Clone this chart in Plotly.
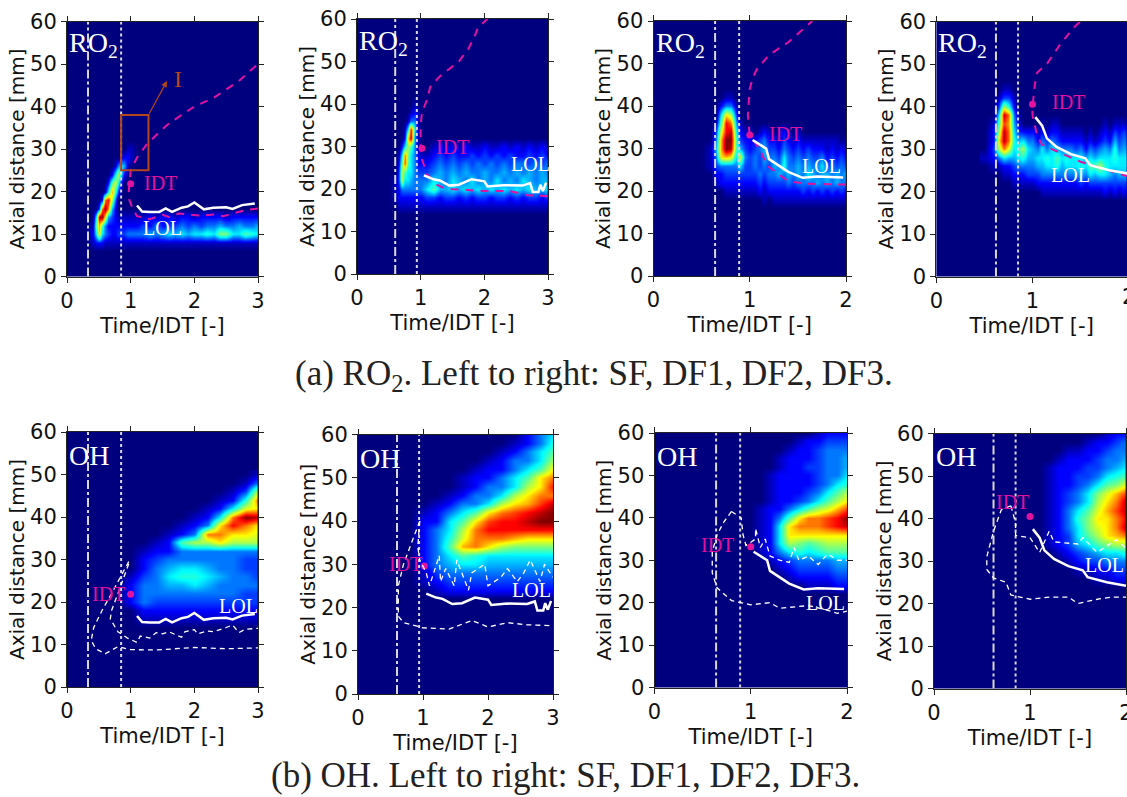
import plotly.graph_objects as go

W, H = 1127, 797
# ---------- heat maps (x = Time/IDT, y = axial distance, rows listed from top to bottom; short rows end in zeros)
ro2_sf_t = [.3,.4,.45,.5,.55,.6,.65,.7,.75,.8,.85,.9,.95,1,1.1,1.2,1.3,1.4,1.5,1.6,1.7,1.8,1.9,2,2.1,2.2,2.3,2.4,2.5,2.6,2.7,2.8,2.9,3]
ro2_sf_y = [34,32,30,28,26,24,22,20,18,16,14,12,10,8,6]
ro2_sf_z = [[],[],
 [0,0,0,0,0,0,0,0,0,0,0,0,.5,.5],
 [0,0,0,0,0,0,0,0,0,0,.5,1,1,.5],
 [0,0,0,0,0,0,0,0,.5,2,3,2.5,.5],
 [0,0,0,0,0,0,0,1,3,5,3,1],
 [0,0,0,0,0,0,1,4,5.5,3.5,1],
 [0,0,0,0,0,.5,3,6.5,4,1.5],
 [0,0,0,0,1,7,8,5,2],
 [0,0,0,1.5,7,9,7,2.5,1],
 [0,0,3,8.5,9,6,2.5,1.5,1,.5,.5,.5,.5,.5,.5,.5,1,.5,1,1,.5,1,1,.5,1,1,1,1,.5,1,1,1,1,1],
 [0,.5,4,6.5,4,2,1,1,1,1,1,1,1,1,1,1.5,1,2,1,1.5,1.5,2,1.5,2,1.5,2,2,2.5,2,2,2.5,2,2,2.5],
 [0,1,3,6,3,2,1.5,1,1,1.5,1.5,1.5,2,2,2,2,2.5,2,2.5,3,2.5,3,2.5,3,3,3.5,3,4.5,4.5,3,3,4,3.5,3],
 [0,.5,1,1,1,.5,.5,.5,.5,.5,.5,.5,.5,.5,.5,.5,.5,.5,.5,.5,.5,.5,.5,.5,.5,.5,.5,.5,.5,.5,.5,.5,.5,.5],
 []]
ro2_df1_t = [.5,.6,.65,.7,.75,.8,.85,.9,.95,1,1.1,1.2,1.3,1.4,1.5,1.6,1.7,1.8,1.9,2,2.1,2.2,2.3,2.4,2.5,2.6,2.7,2.8,2.9,3]
ro2_df1_y = [42,40,38,36,34,32,30,28,26,24,22,20,18,16,14]
ro2_df1_z = [[],
 [0,0,0,0,0,0,0,.5],
 [0,0,0,0,0,0,.5,1,.5],
 [0,0,0,0,0,.5,2,2,.5],
 [0,0,0,0,.5,3,8,3,.5],
 [0,0,0,0,1,6,8.5,2,.5],
 [0,0,0,1,3,5,4,2,.5,0,0,.5,1,.5,1,.5,1,.5,.5,1,.5,.5,1,.5,1,.5,1,.5,1,.5],
 [0,0,.5,3,7,4.5,3,2,1,.5,.5,1,1.5,1,1.5,1,1,1.5,1,1.5,1,1.5,1,1.5,1,1,1.5,1,1.5,1],
 [0,0,1,4,7.5,4,3,2,1,1,1,1.5,2,1.5,2,1.5,2,1.5,2,1.5,2,1.5,2,1.5,2,2,1.5,2,1.5,2],
 [0,0,1.5,5,4,3,3,2,1.5,1.5,1.5,2,2.5,2,2.5,2,2.5,2,2,2.5,2,2,2.5,2,2.5,2,2.5,2,2.5,2],
 [0,.5,1.5,5,3,3,2.5,2,2,2,2,3,2.5,2,3,2.5,2,3,2,2.5,2,3,2,2.5,2,3,2.5,2,2.5,2.5],
 [0,.5,1,2,2,2,2,2,2,2,3,4,2.5,2.5,3,2.5,3,2.5,3,2.5,3,2.5,3,2.5,3,2.5,3,2.5,2.5,3],
 [0,.5,1,1,1,1,1,1,1,1,1.5,1.5,1,1.5,1.5,1,1.5,1,1.5,1.5,1,1.5,1.5,1,1.5,1,1.5,1.5,1,1.5],
 [0,0,.5,.5,.5,.5,.5,.5,.5,.5,.5,.5,.5,.5,.5,.5,.5,.5,.5,.5,.5,.5,.5,.5,.5,.5,.5,.5,.5,.5],
 []]
ro2_df2_t = [.5,.6,.65,.7,.75,.8,.85,.9,.95,1,1.05,1.1,1.15,1.2,1.25,1.3,1.35,1.4,1.45,1.5,1.55,1.6,1.65,1.7,1.75,1.8,1.85,1.9,1.95,2]
ro2_df2_y = [44,42,40,38,36,34,32,30,28,26,24,22,20,18,16]
ro2_df2_z = [[],
 [0,0,0,0,.5,.5],
 [0,0,0,1,2,2,.5],
 [0,0,0,3,6,5,1.5],
 [0,0,.5,4,8,7,2.5,.5],
 [0,0,1.5,5.5,8,8.5,3.5,1,.5,.5,0,.5,1,.5,0,.5,1,.5,0,.5],
 [0,0,2,6.5,9,9,4,1.5,1,1,1,1.5,2,1,1,.5,1.5,1,.5,1,.5,.5,.5,.5,.5,.5,.5,.5,0,.5],
 [0,.5,2.5,6.5,9,8.5,4,2.5,1.5,1,1.5,2,2.5,1.5,1.5,1,2,1.5,1,1.5,1,1.5,1,1,1,.5,1,.5,1,.5],
 [0,.5,2,6,6.5,6,3,5.5,2,1.5,2,1.5,2.5,2,2,1.5,3,2,1.5,2,1.5,2,1.5,1.5,2,1,1.5,1,1.5,1],
 [0,.5,1.5,2,2,2,2,3,1.5,1.5,2,1.5,2,1.5,2.5,2,3.5,2,2,2.5,2,2.5,2,2,3,1.5,2,1.5,2,1.5],
 [0,0,1,1,1.5,1.5,1.5,1.5,1.5,1.5,1.5,2,1.5,2,2,2.5,2,2.5,2,2.5,2,3,2.5,2,2.5,2.5,2,2.5,2,2.5],
 [0,0,.5,1,1,1,1,1,1,1,1,1.5,1,1.5,1.5,1.5,1.5,2,1.5,2,2,2,2,2.5,2,2.5,2,2.5,2,2],
 [0,0,0,0,.5,.5,.5,.5,.5,.5,.5,1,.5,1,1,1,1,1,1,1,1.5,1,1.5,1,1.5,1,1.5,1,1.5,1],
 [0,0,0,0,0,0,0,0,0,0,0,0,.5,0,.5,.5,.5,.5,.5,.5,.5,.5,.5,.5,.5,.5,.5,.5,.5,.5],
 []]
ro2_df3_t = [.5,.6,.65,.7,.75,.8,.85,.9,.95,1,1.05,1.1,1.15,1.2,1.25,1.3,1.35,1.4,1.45,1.5,1.55,1.6,1.65,1.7,1.75,1.8,1.85,1.9,1.95,2]
ro2_df3_y = [46,44,42,40,38,36,34,32,30,28,26,24,22,20,18]
ro2_df3_z = [[],
 [0,0,0,.5,.5],
 [0,0,.5,1.5,1.5,.5],
 [0,0,1.5,5,3.5,1],
 [0,0,3,8.5,7,2,.5],
 [0,.5,4,7.5,6.5,2.5,1,0,0,0,0,.5,0,.5,.5,0,0,0,0,0,0,0,0,0,.5,0,.5,.5,.5,.5],
 [0,1,5,8.5,7,3,1.5,1,1,1,.5,1,.5,1,1,.5,.5,.5,.5,.5,0,.5,0,.5,1,.5,1.5,1,1.5,1],
 [0,1,6,8.5,7,3.5,2.5,3,2,2,1,2,1.5,2,1.5,1,1,1,1,1,.5,1,.5,1,1.5,1,2.5,1.5,2,1.5],
 [0,1.5,5,7,5.5,3,3.5,5,3,2.5,2,3,2,3,2.5,2,2,2,1.5,2,1,2,1.5,2,2.5,2,3.5,2,2.5,2],
 [.5,1,2,3,2.5,2.5,3,3.5,2.5,2.5,3,3,3.5,3,4,3,3.5,3,3,3,2.5,3,2.5,3,3,3,3.5,3,3,3],
 [0,.5,.5,1,1,1.5,2,2,2,2,2.5,2.5,3,3,3.5,2.5,3,3,3,3.5,3,4,4,5,3.5,3,3,3,3,3],
 [0,0,0,.5,.5,1,1,1,1.5,1.5,1.5,2,2,2,2,2,2,2,2,2.5,2,3,2.5,3,3,2.5,2,2.5,2.5,2.5],
 [0,0,0,0,0,.5,.5,.5,.5,.5,1,1,1,1,1,1,1,1,1,1.5,1,1.5,1.5,1.5,1.5,1.5,1.5,1.5,1.5,1.5],
 [0,0,0,0,0,0,0,0,0,0,0,.5,.5,.5,.5,.5,.5,.5,.5,.5,.5,.5,.5,.5,1,.5,1,.5,1,.5],
 []]
oh_sf_t = [.8,1,1.2,1.4,1.6,1.8,2,2.2,2.4,2.6,2.8,3]
oh_sf_y = [50,48,46,44,42,40,38,36,34,32,30,28,26,24,22,20,18,16,14]
oh_sf_z = [
 [0,0,0,0,0,0,0,0,0,0,0,.5],
 [0,0,0,0,0,0,0,0,0,0,.5,2],
 [0,0,0,0,0,0,0,0,0,.5,1.5,5],
 [0,0,0,0,0,0,0,0,.5,1,3.5,7],
 [0,0,0,0,0,0,0,.5,1,3,5.5,6],
 [0,0,0,0,0,0,.5,1,3,7,9,8.5],
 [0,0,0,0,0,.5,1,2,6,8,7,6],
 [0,0,0,0,.5,1,2,7,7,6,6,5.5],
 [0,0,0,.5,1,4,5,5,6,5,5,5],
 [0,0,.5,1,1,2,2,2,2,2,2,2],
 [0,0,1,1.5,2,2,2,2,2,2,1.5,1.5],
 [0,0,1,2,2.5,3,3,2.5,2,2,1.5,1.5],
 [0,.5,1.5,2,3,3.5,3.5,3,2.5,2,2,1.5],
 [0,1,2,2,2.5,2.5,3,2.5,2,2,2,2],
 [0,1,2,2,2,2,2,2,2,2,1.5,1.5],
 [0,1,2,1.5,1.5,1.5,1.5,1.5,1.5,1.5,1.5,1.5],
 [0,0,1,1,1,1,1,1,1,1,1,1],
 [0,0,.5,.5,.5,.5,.5,.5,.5,.5,.5,.5],
 []]
oh_df1_t = [.8,1,1.2,1.4,1.6,1.8,2,2.2,2.4,2.6,2.8,3]
oh_df1_y = [60,58,56,54,52,50,48,46,44,42,40,38,36,34,32,30,28,26,24,22]
oh_df1_z = [
 [0,0,0,0,0,0,0,0,0,1,2,3],
 [0,0,0,0,0,0,0,0,.5,1,2,3.5],
 [0,0,0,0,0,0,0,.5,1,2,3,4],
 [0,0,0,0,0,0,.5,1,2,2,3,5],
 [0,0,0,0,0,.5,1,1,2,3,4,6],
 [0,0,0,0,.5,1,1,2,3,4,6,7],
 [0,0,0,0,.5,1,2,2,3,5,6,8],
 [0,0,0,.5,1,2,2,3,5,6,7,7],
 [0,0,.5,1,2,2,3,5,6,6.5,7.5,8.5],
 [0,.5,1,2,3,4,6,7,7.5,8,8.5,9],
 [0,1,1,3,4,6,7.5,8,8,8.5,9,9],
 [0,1,2,3,5,7,8,8,8,8,8,8],
 [0,1,2,3.5,5.5,7,7,7,6.5,6,6,6],
 [0,1,2,4,6.5,7,6,5,4.5,4.5,4.5,4.5],
 [0,1,2,3,4,3.5,3,3,3,3,3,3],
 [0,1,2,2.5,3,3,2.5,2.5,2.5,2.5,2.5,2.5],
 [0,.5,1.5,2,2,2,2,2,2,2,2,2],
 [0,.5,1,1.5,1.5,1.5,1.5,1.5,1.5,1.5,1.5,1.5],
 [0,0,.5,1,1,1,1,1,1,1,1,1],
 []]
oh_df2_t = [.9,1,1.1,1.2,1.3,1.4,1.5,1.6,1.7,1.8,1.9,2]
oh_df2_y = [60,58,56,54,52,50,48,46,44,42,40,38,36,34,32,30,28,26,24,22]
oh_df2_z = [
 [0,0,0,0,0,0,0,0,.5,1,1,1],
 [0,0,0,0,0,0,.5,1,1,1.5,1.5,1.5],
 [0,0,0,0,0,.5,1,1,1.5,2,2,2],
 [0,0,0,0,.5,1,1,1,1.5,2,2,2.5],
 [0,0,0,0,.5,1,1,1.5,1.5,2,2,2.5],
 [0,0,0,.5,1,1,1,1,1.5,2,2,3],
 [0,0,0,.5,1,1,1,1,1.5,2,3,3.5],
 [0,0,0,.5,1,1,1,1.5,2,3,4,5],
 [0,0,0,.5,1,1,1.5,2,3,4,5,6],
 [0,0,.5,1,1,2,3,4,5,5.5,6.5,7.5],
 [0,0,.5,1,2,4,6,7,7,7.5,8,9],
 [0,0,.5,1,3,6,7,7,7,7.5,8,8.5],
 [0,0,.5,1,3,6,6,6,6,6,6,6],
 [0,0,.5,1,3,5,4.5,4,4.5,5,5,5],
 [0,0,.5,1,2,3,3.5,3,3.5,4,4,4],
 [0,0,0,.5,1,1.5,2,2,2,2,2.5,2.5],
 [0,0,0,0,.5,1,1.5,1.5,1.5,1.5,2,2],
 [0,0,0,0,0,.5,1,1,1,1,1.5,1.5],
 [0,0,0,0,0,0,0,.5,.5,.5,1,1],
 []]
oh_df3_t = [.9,1,1.1,1.2,1.3,1.4,1.5,1.6,1.7,1.8,1.9,2]
oh_df3_y = [60,58,56,54,52,50,48,46,44,42,40,38,36,34,32,30,28,26,24]
oh_df3_z = [
 [0,0,0,0,0,0,0,0,0,.5,1,1],
 [0,0,0,0,0,0,0,.5,1,1,1.5,2],
 [0,0,0,0,0,.5,.5,1,1,1.5,2,2],
 [0,0,0,0,.5,1,1,1,1.5,2,2,2.5],
 [0,0,0,.5,1,1,1,1.5,1.5,2,2.5,3],
 [0,0,0,.5,1,1,1.5,1.5,2,3,3.5,4],
 [0,0,0,.5,1,1,1.5,2,3,4,4.5,5.5],
 [0,0,0,.5,1,1.5,2,3,4.5,5.5,6.5,7.5],
 [0,0,0,.5,1,1.5,2,3,5,6,7,8.5],
 [0,0,0,.5,1,2,3,4,5.5,6.5,7.5,8.5],
 [0,0,0,.5,1,2,3.5,4.5,6,6,7,8],
 [0,0,0,.5,1,2,3,4.5,5.5,6,7,8.5],
 [0,0,0,.5,1,1.5,3,4,5,6,6.5,7],
 [0,0,0,.5,1,1.5,2.5,3,4,4.5,5,5],
 [0,0,0,0,.5,1,1.5,2,2.5,3,3,3.5],
 [0,0,0,0,0,.5,1,1.5,1.5,2,2,2],
 [0,0,0,0,0,0,.5,.5,1,1,1.5,1.5],
 [0,0,0,0,0,0,0,0,.5,.5,1,1],
 []]

# ---------- curves
idt_sf_t = [3,2.8,2.6,2.45,2.3,2.1,1.9,1.75,1.6,1.5,1.3,1.1,1.03,.98,.97,.98,1,1.1,1.25,1.45,1.6,1.8,2,2.3,2.55,2.7,2.85,3]
idt_sf_y = [16,15.6,14.8,14.2,14.6,14.3,14.6,14.8,14,14.5,13.5,14.2,16,18,20,22,25,28,31,34,36,38,40,42,44.5,46,48,50]
lol_sf_t = [1.1,1.18,1.3,1.45,1.55,1.65,1.8,1.9,2,2.15,2.3,2.5,2.6,2.75,2.95]
lol_sf_y = [16.7,15.3,15.2,15.2,16,15.2,16.2,16.5,17.4,15.8,16.2,16.3,15.9,16.8,17.2]
idt_df1_t = [3,2.7,2.4,2,1.7,1.4,1.25,1.1,1.02,1,1,1.02,1.1,1.15,1.3,1.6,1.75,1.85,1.9,2.05]
idt_df1_y = [18.3,18.5,19.5,19.5,19.8,20,21,23.5,27,30,35,38,41,44,46.5,50,53,56,58,60]
lol_df1_t = [1.05,1.2,1.3,1.45,1.6,1.8,2,2.05,2.3,2.6,2.72,2.76,2.85,2.88,2.92,2.97]
lol_df1_y = [23.2,22.3,22,20.8,21,22.3,21.8,20.6,20.9,20.8,21.4,19.3,19.3,21,19.5,21.5]
idt_df2_t = [2,1.6,1.4,1.3,1.18,1.1,1,.98,1,1.03,1.07,1.2,1.4,1.55,1.65]
idt_df2_y = [21.5,21.7,22.3,24,26,30,33,38,44,46.5,48.5,52,55,58,60]
lol_df2_t = [1.03,1.1,1.17,1.2,1.3,1.4,1.55,1.7,1.97]
lol_df2_y = [32,31,30,27.5,26,24.5,23.1,23.4,23.2]
idt_df3_t = [2,1.7,1.5,1.3,1.1,1.05,1,1,1.03,1.05,1.15,1.3,1.45,1.5]
idt_df3_y = [23.5,25.5,27,29,31,33,38,40,46,48,50,55,59,60]
lol_df3_t = [1.03,1.1,1.15,1.25,1.4,1.55,1.6,1.8,2]
lol_df3_y = [37.5,35.5,32.5,30.5,28.8,27.8,26.2,25,24.2]

ro2o_sf_t = [.97,.85,.7,.55,.42,.38,.45,.6,.8,1,1.4,2,2.5,3]
ro2o_sf_y = [29.5,26,22,18,14,11,9,7.8,9.5,8.8,8.7,9.3,9,9.2]
ro2i_sf_t = [.97,.9,.8,.7,.68,.8,.95,1.1,1.15,1.3,1.4,1.5,1.6,1.8,1.85,2,2.05,2.2,2.3,2.5,2.6,2.7,2.8,3]
ro2i_sf_y = [29,26,22,18,16,13,11.5,10.5,12,11.5,12.8,12.5,13,11.7,13,13.5,12.5,13.2,13,14,14.6,12.8,13.6,13.8]
ro2o_df1_t = [.95,.85,.7,.62,.62,.7,1,1.4,1.75,2,2.3,2.6,3]
ro2o_df1_y = [40,36,30,25,18,16.5,15.3,15,17,15.5,16.5,16,15.8]
ro2i_df1_t = [.95,.92,.95,1.05,1.1,1.25,1.27,1.35,1.48,1.52,1.7,1.75,1.95,2,2.2,2.3,2.45,2.55,2.65,2.8,2.87,3]
ro2i_df1_y = [40,34,31,28,25,32,26,29,25,31,24,28,30,25,27,29,26,28,31,26,30,27]
ro2o_df2_t = [.8,.72,.65,.6,.6,.65,.8,1,1.2,1.3,1.6,1.75,1.9,2]
ro2o_df2_y = [41.5,39,36,32,27,23.5,20.5,19.5,20,18.7,19.3,18.5,17.5,18]
ro2i_df2_t = [.8,.9,.92,.95,1.05,1.05,1.1,1.15,1.2,1.3,1.4,1.45,1.5,1.6,1.7,1.8,1.9,2]
ro2i_df2_y = [41.5,40,36,33.5,35,37.5,33,35,31,30,29.5,33,30,31,29,31.5,30,30]
ro2o_df3_t = [.8,.7,.62,.55,.55,.62,.75,.8,1,1.2,1.4,1.5,1.7,1.85,2]
ro2o_df3_y = [43,42,37,31,28,26,25,22,21,21.5,21.5,20,21,21.5,21.5]
ro2i_df3_t = [.8,.85,.85,1,1.1,1.2,1.25,1.5,1.55,1.7,1.8,1.9,2]
ro2i_df3_y = [43,39,36,35.5,32,37,34.5,34,35.5,32,33.5,35,33]

idt_points_t = [1,1.02,1,1,1,1.02,1,1]
idt_points_y = [21.8,29.6,33.2,40.5,21.8,29.6,33.2,40.5]
t_start = [.33,.6,.64,.62,.33,.6,.64,.62]
t_end = [.85,.94,.89,.85,.85,.94,.89,.85]
x_max = [3,3,2,2,3,3,2,2]
y_ticks = [0,10,20,30,40,50,60]
species = ["RO<sub>2</sub>"]*4 + ["OH"]*4
idt_label_t = [1.47,1.5,1.37,1.38,.65,.73,.65,.82]
idt_label_y = [22,30,33.5,41,22,30,33.5,44]
lol_label_t = [1.5,2.72,1.75,1.4,2.7,2.67,1.78,1.78]
lol_label_y = [11.5,26,26,24,19,24,20,29]
captions = ["(a) RO<sub>2</sub>. Left to right: SF, DF1, DF2, DF3.",
            "(b) OH. Left to right: SF, DF1, DF2, DF3."]

# panel rectangles in pixels: left, right, top, bottom
boxes = [(67,258,21.5,276.5),(357,548,19,274),(653.5,846,21,276),(936.4,1127,21.5,276.5),
         (67,258,432,687),(358,553,434.5,694),(654.5,847,433,687.5),(934,1126,433.5,688.5)]

grids = [(ro2_sf_t,ro2_sf_y,ro2_sf_z),(ro2_df1_t,ro2_df1_y,ro2_df1_z),(ro2_df2_t,ro2_df2_y,ro2_df2_z),(ro2_df3_t,ro2_df3_y,ro2_df3_z),
         (oh_sf_t,oh_sf_y,oh_sf_z),(oh_df1_t,oh_df1_y,oh_df1_z),(oh_df2_t,oh_df2_y,oh_df2_z),(oh_df3_t,oh_df3_y,oh_df3_z)]
jet = [[0,"#00007f"],[.11,"#0000ff"],[.35,"#00ffff"],[.5,"#7dff7a"],[.65,"#ffff00"],[.89,"#ff0000"],[1,"#7f0000"]]
MAG, WHITE, GRAY = "#e0129f", "#ffffff", "#d8d8d8"
TICK = "DejaVu Sans"
SERIF = "Liberation Serif"

fig = go.Figure()
annos, shapes = [], []
for i,(l,r,t,b) in enumerate(boxes):
    n = "" if i == 0 else str(i+1)
    xa, ya = f"x{n}", f"y{n}"
    rng = [0, 1.984] if i == 3 else [0, x_max[i]]
    ticks = [v for v in range(x_max[i]+1) if v <= rng[1]]
    axcommon = dict(ticks="outside", ticklen=5, tickcolor="#222", linecolor="#222", linewidth=1, mirror="ticks",
                    showgrid=False, zeroline=False, automargin=False, ticklabeloverflow="allow",
                    tickfont=dict(family=TICK,size=21,color="#111"))
    fig.layout[f"xaxis{n}"] = dict(domain=[l/W, r/W], range=rng, anchor=ya, tickvals=ticks,
        title=dict(text="Time/IDT [-]",font=dict(family=TICK,size=21,color="#111"),standoff=6), **axcommon)
    fig.layout[f"yaxis{n}"] = dict(domain=[1-b/H, 1-t/H], range=[0,60], anchor=xa, tickvals=y_ticks,
        title=dict(text="Axial distance [mm]",font=dict(family=TICK,size=20,color="#111"),standoff=0), **axcommon)
    gx, gy, gz = grids[i]
    rows = [list(row)+[0]*(len(gx)-len(row)) for row in gz]
    fig.add_trace(go.Heatmap(x=gx, y=gy[::-1], z=rows[::-1], zmin=0, zmax=9, colorscale=jet, zsmooth="best",
                             showscale=False, hoverinfo="skip", xaxis=xa, yaxis=ya))
    fig.add_trace(go.Scatter(x=[t_start[i]]*2, y=[0,60], mode="lines", line=dict(color=GRAY,width=2,dash="dashdot"), xaxis=xa, yaxis=ya))
    fig.add_trace(go.Scatter(x=[t_end[i]]*2, y=[0,60], mode="lines", line=dict(color=GRAY,width=2,dash="dot"), xaxis=xa, yaxis=ya))
    annos.append(dict(xref=xa,yref=ya,x=0,y=54.5,xanchor="left",yanchor="middle",text=species[i],showarrow=False,
                      font=dict(family=SERIF,size=28,color=WHITE)))
    annos.append(dict(xref=xa,yref=ya,x=idt_label_t[i],y=idt_label_y[i],text="IDT",showarrow=False,
                      font=dict(family=SERIF,size=20,color=MAG)))
    annos.append(dict(xref=xa,yref=ya,x=lol_label_t[i],y=lol_label_y[i],text="LOL",showarrow=False,
                      font=dict(family=SERIF,size=20,color=WHITE)))
    fig.add_trace(go.Scatter(x=[idt_points_t[i]], y=[idt_points_y[i]], mode="markers", marker=dict(color=MAG,size=7), xaxis=xa, yaxis=ya))

def curve(i, tt, yy, color, width, dash):
    n = "" if i == 0 else str(i+1)
    fig.add_trace(go.Scatter(x=tt, y=yy, mode="lines", line=dict(color=color,width=width,dash=dash), xaxis=f"x{n}", yaxis=f"y{n}"))

tops = [(idt_sf_t,idt_sf_y,lol_sf_t,lol_sf_y),(idt_df1_t,idt_df1_y,lol_df1_t,lol_df1_y),
        (idt_df2_t,idt_df2_y,lol_df2_t,lol_df2_y),(idt_df3_t,idt_df3_y,lol_df3_t,lol_df3_y)]
ro2s = [(ro2o_sf_t,ro2o_sf_y,ro2i_sf_t,ro2i_sf_y),(ro2o_df1_t,ro2o_df1_y,ro2i_df1_t,ro2i_df1_y),
        (ro2o_df2_t,ro2o_df2_y,ro2i_df2_t,ro2i_df2_y),(ro2o_df3_t,ro2o_df3_y,ro2i_df3_t,ro2i_df3_y)]
for i,(a,b,c,d) in enumerate(tops):
    curve(i,a,b,MAG,2,"8px,7px")
    curve(i,c,d,WHITE,2.5,"solid")
    curve(i+4,c,d,WHITE,2.5,"solid")
for i,(a,b,c,d) in enumerate(ro2s):
    curve(i+4,a,b,WHITE,1.3,"5px,4px")
    curve(i+4,c,d,WHITE,1.3,"5px,4px")

# inset box and arrow of the first panel
BROWN = "#b5451b"
shapes.append(dict(type="rect",xref="x",yref="y",x0=.85,x1=1.28,y0=25,y1=38,line=dict(color=BROWN,width=2)))
annos.append(dict(xref="x",yref="y",axref="x",ayref="y",x=1.57,y=46,ax=1.28,ay=38,showarrow=True,arrowhead=2,arrowsize=1,arrowwidth=1.2,arrowcolor=BROWN,text=""))
annos.append(dict(xref="x",yref="y",x=1.75,y=46.5,text="I",showarrow=False,font=dict(family=SERIF,size=24,color=BROWN)))
annos.append(dict(xref="paper",yref="paper",x=1128.6/W,y=1-297/H,xanchor="center",yanchor="middle",text="2",showarrow=False,font=dict(family=TICK,size=21,color="#111")))
annos.append(dict(xref="paper",yref="paper",x=594/W,y=1-375/H,xanchor="center",yanchor="middle",text=captions[0],showarrow=False,font=dict(family=SERIF,size=35,color="#222")))
annos.append(dict(xref="paper",yref="paper",x=565/W,y=1-775/H,xanchor="center",yanchor="middle",text=captions[1],showarrow=False,font=dict(family=SERIF,size=35,color="#222")))

fig.update_layout(width=W,height=H,margin=dict(l=0,r=0,t=0,b=0),paper_bgcolor="white",plot_bgcolor="#00007f",showlegend=False,
                  annotations=annos,shapes=shapes)
fig.write_html("out.html",post_script="document.body.style.margin='0';document.body.style.overflow='hidden';",config=dict(displayModeBar=False))
